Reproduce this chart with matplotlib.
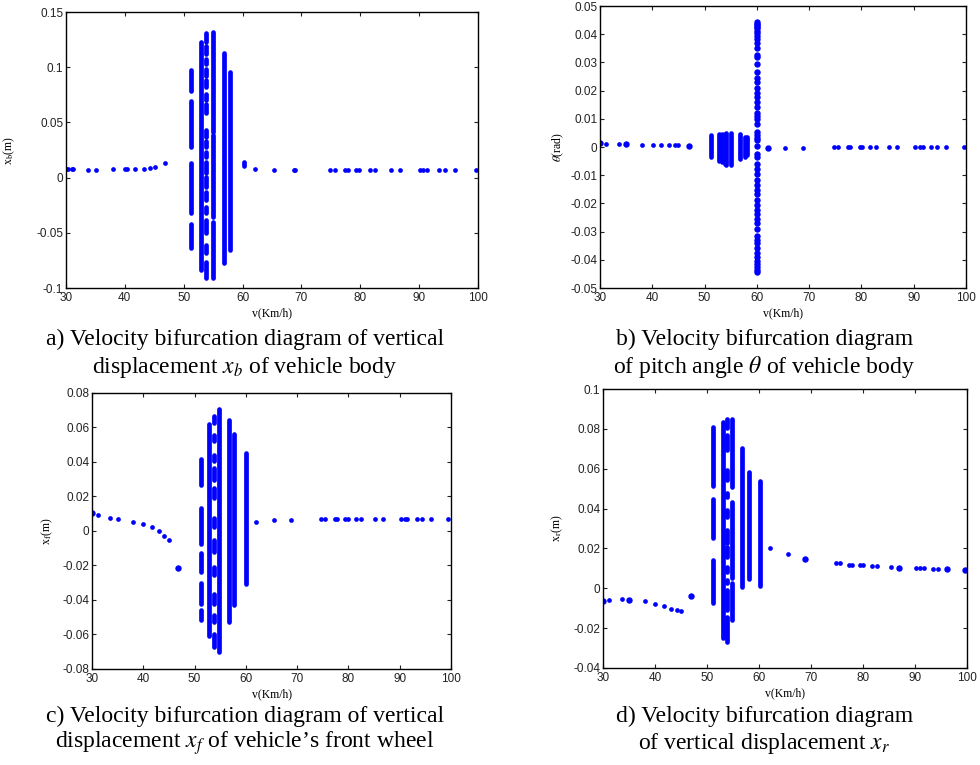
import matplotlib
matplotlib.use("Agg")
import matplotlib.pyplot as plt
from matplotlib.ticker import FuncFormatter

plt.rcParams['font.family'] = ['Liberation Sans', 'DejaVu Sans']
plt.rcParams['mathtext.fontset'] = 'stix'
plt.rcParams['axes.unicode_minus'] = False

BLUE = '#0000ff'

# ---------------- a) x_b ----------------
v_a = [30.0, 30.4, 31.0, 31.2, 33.7, 35.1, 38.0, 40.0, 40.3, 41.8, 43.2, 44.2, 45.1, 46.9,
       62.2, 65.3, 68.8, 69.0, 74.8, 75.7, 77.4, 77.9, 79.2, 79.8, 81.6, 82.5, 85.3, 86.7,
       90.1, 90.7, 91.4, 93.4, 94.4, 96.1, 99.7]
xb_a = [0.0078, 0.0078, 0.0078, 0.0078, 0.0072, 0.0072, 0.0078, 0.0078, 0.0078, 0.0078, 0.0078,
        0.0090, 0.0097, 0.0136,
        0.0080, 0.0072, 0.0072, 0.0072, 0.0072, 0.0072, 0.0072, 0.0072, 0.0072, 0.0072, 0.0072,
        0.0072, 0.0072, 0.0072, 0.0072, 0.0072, 0.0072, 0.0072, 0.0072, 0.0072, 0.0072]
cols_a_v = [51.2, 52.9, 53.8, 54.9, 56.8, 57.9, 60.2]
cols_a_seg = [
    [(0.0975, 0.0787), (0.0694, 0.0280), (0.0135, -0.0318), (-0.0420, -0.0634)],
    [(0.1231, -0.0840)],
    [(0.1307, 0.1232), (0.1193, 0.1120), (0.1072, 0.1030), (0.0984, 0.0924), (0.0885, 0.0818),
     (0.0755, 0.0703), (0.0667, 0.0583), (0.0432, 0.0365), (0.0332, 0.0281), (0.0236, 0.0190),
     (0.0145, 0.0039), (0.0009, -0.0082), (-0.0127, -0.0202), (-0.0263, -0.0323),
     (-0.0383, -0.0504), (-0.0610, -0.0685), (-0.0761, -0.0912)],
    [(0.1322, 0.0416), (0.0385, -0.0354), (-0.0399, -0.0912)],
    [(0.1126, -0.0776)],
    [(0.0959, -0.0656)],
    [(0.0145, 0.0108)],
]

# ---------------- b) theta ----------------
v_b = [31.1, 33.7, 38.1, 40.1, 41.7, 43.2, 44.3, 45.0, 65.4, 68.9,
       74.8, 75.6, 77.5, 77.9, 79.7, 80.1, 81.6, 82.7, 85.3, 86.9,
       90.3, 91.2, 91.7, 93.4, 94.4, 96.2, 99.7]
th_b = [0.0012, 0.0012, 0.0008, 0.0008, 0.0008, 0.0008, 0.0008, 0.0008, -0.0002, -0.0002,
        0, 0, 0, 0, 0, 0, 0, 0, 0, 0, 0, 0, 0, 0, 0, 0, 0]
v_b_big = [30.0, 35.0, 47.0, 62.2]
th_b_big = [0.0015, 0.0010, 0.0005, -0.0004]
cols_b_v = [51.2, 52.8, 53.3, 53.9, 54.2, 55.0, 56.8, 57.8, 58.2]
cols_b_seg = [
    [(0.0043, -0.0034)], [(0.0045, -0.0050)], [(0.0045, -0.0052)], [(0.0047, -0.0060)],
    [(0.0048, -0.0062)], [(0.0048, -0.0064)], [(0.0045, -0.0044)], [(0.0037, -0.0034)],
    [(0.0034, -0.0030)],
]
v_b60 = 60.1
th_b60 = [0.0444, 0.0438, 0.0432, 0.0427, 0.0421, 0.0412, 0.0403, 0.0393, 0.0382, 0.0370,
          0.0350, 0.0326, 0.0318, 0.0296, 0.0267, 0.0246, 0.0231, 0.0211, 0.0192, 0.0178,
          0.0160, 0.0142, 0.0121, 0.0109, 0.0101, 0.0083, 0.0053, 0.0041, 0.0033, 0.0024,
          0.0002, -0.0024, -0.0036, -0.0059, -0.0077, -0.0095, -0.0116, -0.0136, -0.0154,
          -0.0166, -0.0187, -0.0204, -0.0223, -0.0237, -0.0255, -0.0270, -0.0290, -0.0314,
          -0.0329, -0.0341, -0.0358, -0.0377, -0.0391, -0.0403, -0.0415, -0.0427, -0.0436,
          -0.0444]

# ---------------- c) x_f ----------------
v_c = [31.1, 33.6, 35.0, 38.0, 39.9, 41.6, 43.1, 44.1, 45.0, 62.0, 65.4, 68.8,
       74.7, 75.5, 77.3, 77.8, 79.4, 79.9, 81.5, 82.4, 85.2, 86.7, 90.2, 91.0, 91.5,
       93.4, 94.3, 96.1, 99.5]
xf_c = [0.0093, 0.0078, 0.0070, 0.0052, 0.0039, 0.0025, 0.0002, -0.0027, -0.0054,
        0.0052, 0.0062, 0.0066,
        0.0072, 0.0072, 0.0072, 0.0072, 0.0072, 0.0072, 0.0072, 0.0072, 0.0072, 0.0072,
        0.0072, 0.0072, 0.0072, 0.0072, 0.0072, 0.0072, 0.0072]
v_c_big = [30.0, 46.8]
xf_c_big = [0.0103, -0.0213]
cols_c_v = [51.2, 52.9, 53.7, 54.8, 56.8, 57.7, 60.0]
cols_c_seg = [
    [(0.0417, 0.0268), (0.0132, -0.0076), (-0.0130, -0.0237), (-0.0300, -0.0425), (-0.0460, -0.0514)],
    [(0.0621, -0.0609)],
    [(0.0669, 0.0627), (0.0559, 0.0520), (0.0442, 0.0403), (0.0365, 0.0297), (0.0248, 0.0190),
     (0.0074, 0.0025), (-0.0052, -0.0120), (-0.0208, -0.0256), (-0.0363, -0.0421),
     (-0.0489, -0.0528), (-0.0596, -0.0673)],
    [(0.0710, -0.0700)],
    [(0.0646, -0.0528)],
    [(0.0565, -0.0431)],
    [(0.0452, -0.0305)],
]

# ---------------- d) x_r ----------------
v_d = [31.2, 33.6, 38.1, 40.0, 41.7, 43.1, 44.3, 45.0, 62.2, 65.5,
       74.8, 75.6, 77.4, 77.9, 79.5, 80.0, 81.7, 82.7, 85.4, 90.2, 91.0, 91.7, 93.5, 94.5]
xr_d = [-0.0059, -0.0054, -0.0065, -0.0079, -0.0090, -0.0102, -0.0110, -0.0114, 0.0201, 0.0172,
        0.0129, 0.0125, 0.0119, 0.0119, 0.0115, 0.0115, 0.0110, 0.0110, 0.0107,
        0.0100, 0.0100, 0.0100, 0.0097, 0.0097]
v_d_big = [30.0, 35.0, 46.9, 68.9, 86.9, 96.1, 99.7]
xr_d_big = [-0.0064, -0.0057, -0.0037, 0.0149, 0.0104, 0.0095, 0.0092]
cols_d_v = [51.2, 53.0, 53.8, 54.9, 56.8, 58.0, 60.1]
cols_d_seg = [
    [(0.0807, 0.0514), (0.0449, 0.0251), (0.0142, -0.0075)],
    [(0.0836, -0.0247)],
    [(0.0848, 0.0803), (0.0769, 0.0694), (0.0594, 0.0543), (0.0477, 0.0460), (0.0393, 0.0360),
     (0.0293, 0.0226), (0.0209, 0.0159), (0.0109, 0.0084), (0.0042, 0.0025),
     (-0.0008, -0.0109), (-0.0142, -0.0268)],
    [(0.0848, 0.0510), (0.0435, 0.0050), (0.0025, -0.0159)],
    [(0.0705, 0.0008)],
    [(0.0583, 0.0045)],
    [(0.0540, 0.0010)],
]

captions = [
    ("a) Velocity bifurcation diagram of vertical", r"displacement $x_b$ of vehicle body"),
    ("b) Velocity bifurcation diagram", r"of pitch angle $\theta$ of vehicle body"),
    ("c) Velocity bifurcation diagram of vertical", r"displacement $x_f$ of vehicle’s front wheel"),
    ("d) Velocity bifurcation diagram", r"of vertical displacement $x_r$"),
]


def fmt(v, pos):
    s = f"{round(v, 6):g}"
    return "0" if s in ("0", "-0") else s


def style_axes(ax, ylim, ystep, ylabel, label_x):
    ax.set_xlim(30, 100)
    ax.set_ylim(*ylim)
    ax.set_xticks(range(30, 101, 10))
    n = int(round((ylim[1] - ylim[0]) / ystep))
    ax.set_yticks([ylim[0] + i * ystep for i in range(n + 1)])
    ax.yaxis.set_major_formatter(FuncFormatter(fmt))
    ax.tick_params(direction='in', top=True, right=True, length=3, width=0.8,
                   labelsize=8.5, colors='#222222', pad=2)
    ax.tick_params(axis='x', pad=3)
    for s in ax.spines.values():
        s.set_linewidth(1.0)
    ax.set_xlabel("v(Km/h)", family='Liberation Serif', fontsize=8.5, labelpad=2)
    ax.set_ylabel(ylabel, family='Liberation Serif', fontsize=8.5)
    ax.yaxis.set_label_coords(label_x, 0.5)


def draw_cols(ax, cols_v, cols_seg):
    for v, segs in zip(cols_v, cols_seg):
        for y0, y1 in segs:
            ax.plot([v, v], [y0, y1], color=BLUE, lw=3.4, solid_capstyle='round')


fig = plt.figure(figsize=(9.8, 7.65), dpi=100)
ax_a = fig.add_axes([0.0673, 0.6235, 0.4204, 0.3608])
ax_b = fig.add_axes([0.6122, 0.6235, 0.3735, 0.3686])
ax_c = fig.add_axes([0.0939, 0.1255, 0.3663, 0.3608])
ax_d = fig.add_axes([0.6153, 0.1268, 0.3714, 0.3647])

dot = dict(ls='none', marker='o', color=BLUE, mec='none', ms=3.4)
big = dict(ls='none', marker='o', color=BLUE, mec='none', ms=4.6)

ax_a.plot(v_a, xb_a, **dot)
draw_cols(ax_a, cols_a_v, cols_a_seg)
style_axes(ax_a, (-0.1, 0.15), 0.05, r"x$_\mathrm{b}$(m)", -0.119)

ax_b.plot(v_b, th_b, **dot)
ax_b.plot(v_b_big, th_b_big, **big)
ax_b.plot([v_b60] * len(th_b60), th_b60, **big)
draw_cols(ax_b, cols_b_v, cols_b_seg)
style_axes(ax_b, (-0.05, 0.05), 0.01, r"$\theta$(rad)", -0.093)

ax_c.plot(v_c, xf_c, **dot)
ax_c.plot(v_c_big, xf_c_big, **big)
draw_cols(ax_c, cols_c_v, cols_c_seg)
style_axes(ax_c, (-0.08, 0.08), 0.02, r"x$_\mathrm{f}$(m)", -0.103)

ax_d.plot(v_d, xr_d, **dot)
ax_d.plot(v_d_big, xr_d_big, **big)
draw_cols(ax_d, cols_d_v, cols_d_seg)
style_axes(ax_d, (-0.04, 0.1), 0.02, r"x$_\mathrm{r}$(m)", -0.104)

# caption centres (figure fractions): x, first line, second line
cap_pos = [(0.250, 0.556, 0.520), (0.780, 0.556, 0.520),
           (0.250, 0.064, 0.028), (0.780, 0.064, 0.028)]
for (l1, l2), (cx, y1, y2) in zip(captions, cap_pos):
    fig.text(cx, y1, l1, ha='center', va='center', family='Liberation Serif', fontsize=17)
    fig.text(cx, y2, l2, ha='center', va='center', family='Liberation Serif', fontsize=17)

fig.savefig("out.png", dpi=100)
